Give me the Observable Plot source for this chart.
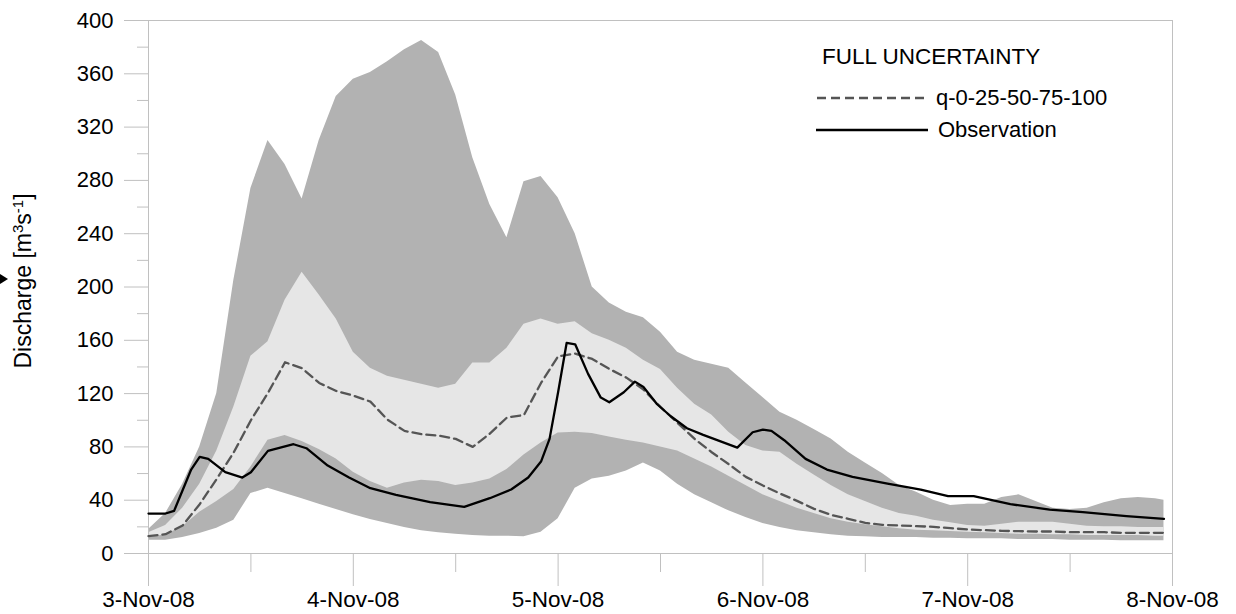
<!DOCTYPE html>
<html>
<head>
<meta charset="utf-8">
<script src="https://cdn.jsdelivr.net/npm/d3@7"></script>
<script src="https://cdn.jsdelivr.net/npm/@observablehq/plot@0.6"></script>
<style>
  body { margin: 0; background: #fff; font-family: "Liberation Sans", Arial, sans-serif; }
  #wrap { position: relative; width: 1236px; height: 614px; }
  #wrap svg { display: block; }
  .ytitle { position: absolute; left: 23px; top: 281px; transform: translate(-50%, -50%) rotate(-90deg);
            white-space: nowrap; font-size: 23px; color: #000; }
  .ytitle sup { font-size: 15px; }
  .marker { position: absolute; left: 0; top: 274px; width: 0; height: 0;
            border-top: 5px solid transparent; border-bottom: 5px solid transparent; border-left: 8px solid #000; }
  .legend { position: absolute; left: 0; top: 0; font-size: 22px; color: #000; }
  .legend .head { position: absolute; left: 822px; top: 44px; white-space: nowrap; font-size: 22.5px; }
  .legend .row { position: absolute; left: 816px; white-space: nowrap; display: flex; align-items: center; }
  .legend .row svg { margin-right: 10px; }
</style>
</head>
<body>
<div id="wrap">
  <div class="marker"></div>
  <div class="ytitle">Discharge [m<sup>3</sup>s<sup>-1</sup>]</div>
  <div class="legend">
    <div class="head">FULL UNCERTAINTY</div>
    <div class="row" style="top:85px"><svg width="110" height="10"><line x1="1" y1="5" x2="110" y2="5" stroke="#555" stroke-width="2.3" stroke-dasharray="9,5"/></svg>q-0-25-50-75-100</div>
    <div class="row" style="top:117px"><svg width="112" height="10"><line x1="0" y1="5" x2="112" y2="5" stroke="#000" stroke-width="2.3"/></svg>Observation</div>
  </div>
</div>
<script>
// Hours since 3 Nov 2008 00:00 for the ensemble quantiles
const hours = [0,2,4,6,8,10,12,14,16,18,20,22,24,26,28,30,32,34,36,38,40,42,44,46,48,50,52,54,56,58,
  60,62,64,66,68,70,72,74,76,78,80,82,84,86,88,90,92,94,96,98,100,102,104,106,108,110,112,114,116,118,119];

// Ensemble quantiles of simulated discharge [m3/s]
const q0 = [10,10,12,15,19,25,45,49,45,41,37,33,29,25.5,22.5,19.5,17,15.5,14.5,13.5,13,13,12.5,16,26,49,56,58,62,68,
  62,52,44,38,32,27,22.5,19.5,17,15.5,14,13,12.5,12,12,12,11.5,11.5,11,11,11,10.5,10.5,10.5,10,10,10,9.5,9.5,9.5,9.5];
const q25 = [12,14,20,31,39,48,65,85,88.5,84,78,71,61,54,49,53,55,54,51,53,56,63,74,83,90.5,91,90,87.5,85,83,
  80,77,71,65,58,51,44,39,34,30,26,23.5,21.5,20,18.5,17.5,17,16.5,16,15.5,15,14.5,14.5,14,14,13.5,13.5,13.5,13.5,13,13];
const q50 = [13,14.5,21,37,56,76,100,120.5,143.5,139,128,122,118.5,114,100.5,92,89.5,88.5,86,80,90,102,104,128,148,150,146,138.5,132,123,
  110,98,86,76,67,57.5,51,45,39.5,33.5,29,26,23,21.5,21,20.5,20,19,18,17.5,17,16.75,16.5,16.5,16,16,16,15.5,15.5,15.5,15.5];
const q75 = [15.5,21,34,52,77,110,148,159,190,211,194,176,151,139,133,130,127,124,127,143,143,154,172,176,172,174,165,160,154,145,
  138,124,112,104,91,81,77,76,67,59,51,44,39,34,30,28,25,23,21,20.5,22,23.5,23.5,23.5,22,20.5,20,20,19.5,19.5,19.5];
const q100 = [18,30,52,80,120,205,274,310,292,266,310,343,356,361,369,378,385,376,344,297,262,237,279,283,267,240,200,188,181,177,
  166,151,145,142,139,128,117,106,100,93,86,76,68,60,51,46,40,36,37,37,42,44,39,34,33,34,38,41,42,41,40];

// Observed discharge [m3/s]
const obsHours = [0,2,3,5,6,7,9,11,12,14,17,18.5,21,23.5,26,29,33,37,40,42.5,44.5,46,47,48,49,50,51.5,53,54,55.7,
  57,58,59.6,61.2,63.1,65,69,70.8,72,73,74.5,77,79.5,82.5,86.6,90.5,93.7,96.7,101,105.6,109.5,114.6,119];
const obsValues = [30,30,32,63,72.5,71,61,57,61,77,82,79,66,57,49,44,38.5,35,41.5,48,57,69,86,121,158,157,135,117,113.5,121,
  129,125,112,103,94,89,79.5,91,93,92,85,71,63,57.5,52.5,48,43,43,37,33,31,28,26];

// Axis ticks
const dayTicks = ["2008-11-03","2008-11-04","2008-11-05","2008-11-06","2008-11-07","2008-11-08"];
const dayLabels = ["3-Nov-08","4-Nov-08","5-Nov-08","6-Nov-08","7-Nov-08","8-Nov-08"];
const halfDayTicks = ["2008-11-03T12:00","2008-11-04T12:00","2008-11-05T12:00","2008-11-06T12:00","2008-11-07T12:00"];
const yMajorTicks = [0,40,80,120,160,200,240,280,320,360,400];
const yMinorTicks = [20,60,100,140,180,220,260,300,340,380];

const start = Date.UTC(2008, 10, 3);
const toDate = h => new Date(start + h * 3600e3);
const parseUTC = s => new Date(s + (s.length === 10 ? "T00:00Z" : "Z"));

const bands = hours.map((h, i) => ({t: toDate(h), q0: q0[i], q25: q25[i], q50: q50[i], q75: q75[i], q100: q100[i]}));
const obs = obsHours.map((h, i) => ({t: toDate(h), v: obsValues[i]}));
const dayDates = dayTicks.map(parseUTC);
const halfDates = halfDayTicks.map(parseUTC);
const labelOf = d => dayLabels[dayDates.findIndex(x => +x === +d)];

const gridGray = "#c0c0c0";

const chart = Plot.plot({
  width: 1236,
  height: 614,
  marginLeft: 148,
  marginRight: 64,
  marginTop: 20,
  marginBottom: 61,
  style: {fontFamily: "'Liberation Sans', Arial, sans-serif", fontSize: "22px", color: "#000", background: "#fff", overflow: "visible"},
  x: {type: "utc", domain: [toDate(0), toDate(120)]},
  y: {domain: [0, 400]},
  marks: [
    Plot.areaY(bands, {x: "t", y1: "q0", y2: "q100", fill: "#b2b2b2"}),
    Plot.areaY(bands, {x: "t", y1: "q25", y2: "q75", fill: "#e6e6e6"}),
    Plot.frame({stroke: gridGray}),
    // y ticks: long at labelled values, short in between
    Plot.axisY(yMajorTicks, {tickSize: 24, stroke: gridGray, fill: "none", label: null}),
    Plot.axisY(yMinorTicks, {tickSize: 11, stroke: gridGray, fill: "none", label: null}),
    Plot.text(yMajorTicks, {y: d => d, frameAnchor: "left", dx: -35, textAnchor: "end", fill: "#000", fontSize: 22}),
    // x ticks: long at each day, short at noon
    Plot.axisX(dayDates, {tickSize: 33, tickPadding: 5, tickFormat: labelOf, stroke: gridGray, fill: "#000", fontSize: 22.5, label: null}),
    Plot.axisX(halfDates, {tickSize: 19, stroke: gridGray, fill: "none", label: null}),
    Plot.line(bands, {x: "t", y: "q50", stroke: "#555", strokeWidth: 2.3, strokeDasharray: "9,5"}),
    Plot.line(obs, {x: "t", y: "v", stroke: "#000", strokeWidth: 2.3})
  ]
});

document.getElementById("wrap").prepend(chart);
</script>
</body>
</html>
